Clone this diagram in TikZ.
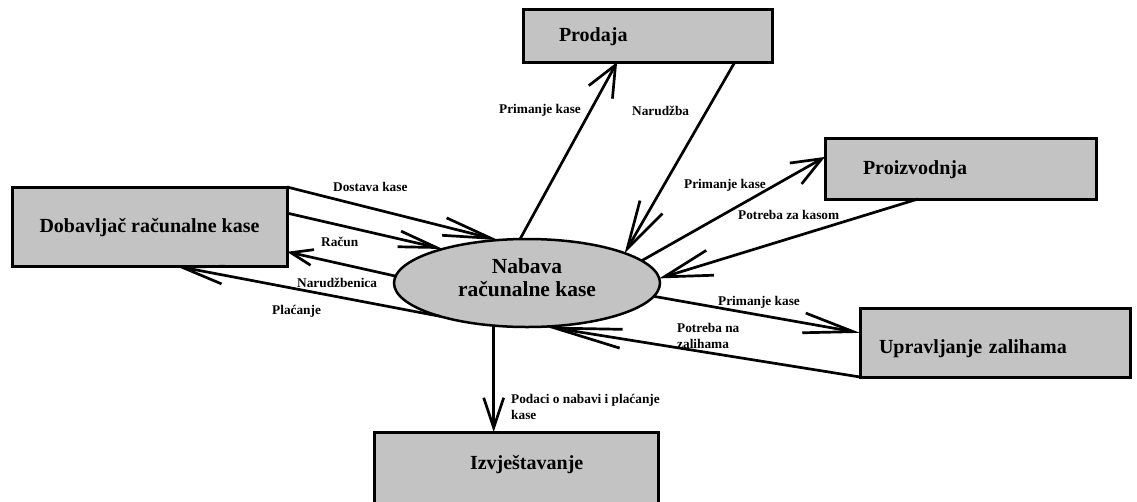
\documentclass[tikz,border=0pt]{standalone}
\usepackage{fontspec}
\setmainfont{Liberation Serif}
\usetikzlibrary{arrows.meta,calc,shapes.geometric}
\definecolor{boxgray}{RGB}{195,195,195}
\begin{document}
\begin{tikzpicture}[x=1pt,y=-1pt,
  box/.style={draw=black, line width=3pt, fill=boxgray, rectangle, inner ysep=0pt,
    outer sep=0pt, anchor=north west, font=\fontsize{20}{23}\selectfont\bfseries,
    text height=12pt, text depth=0pt},
  lbl/.style={font=\fontsize{13.3}{16}\selectfont\bfseries, anchor=base west, inner sep=0pt},
  flow/.style={line width=2.7pt, draw=black},
  ah/.style 2 args={-{Straight Barb[length=#1,width=#2]}}]
\useasboundingbox (0,0) rectangle (1137,501);

% boxes
\node[box, minimum width=275pt, minimum height=79pt, inner xsep=0pt] (dob) at (12,187) {Dobavljač računalne kase};
\node[box, minimum height=53pt, inner xsep=36pt, text width=177pt, align=left] (pro) at (523,9) {Prodaja};
\node[box, minimum height=61pt, inner xsep=38pt, text width=195pt, align=left] (prz) at (825,138) {Proizvodnja};
\node[box, minimum height=69pt, inner xsep=19pt, text width=232pt, align=left, text height=22pt, text depth=0pt] (upr) at (860,308) {Upravljanje zalihama};
\node[box, minimum height=80pt, inner xsep=96pt, text width=92pt, align=left, text height=12pt, text depth=18pt] (izv) at (374,432) {Izvještavanje};

% process
\node[ellipse, draw=black, line width=2.5pt, fill=boxgray, minimum width=266pt, minimum height=88pt, inner sep=0pt, outer sep=0pt] (nab) at (527,283) {};
\node[font=\fontsize{21.5}{23}\selectfont\bfseries, anchor=base, inner sep=0pt] (nabT) at ([yshift=10pt]nab.center) {\parbox[t]{200pt}{\centering Nabava\\računalne kase}};

% flows
\draw[flow, ah={48pt}{18pt}] (dob.north east) -- (nab.124);
\draw[flow, ah={38pt}{16pt}] ($(dob.north east)!0.33!(dob.south east)$) -- (nab.158);
\draw[flow, ah={22pt}{16pt}] (nab.177) -- ($(dob.north east)!0.82!(dob.south east)$);
\draw[flow, ah={42pt}{18pt}] (nab.201) -- ($(dob.south west)!0.595!(dob.south east)$);
\draw[flow, ah={31pt}{27pt}] (nab.99) -- ($(pro.south west)!0.378!(pro.south east)$);
\draw[flow, ah={48pt}{26pt}] ($(pro.south west)!0.851!(pro.south east)$) -- (nab.17);
\draw[flow, ah={30pt}{24pt}] (nab.11) -- ($(prz.north west)!0.31!(prz.south west)$);
\draw[flow, ah={48pt}{26pt}] ($(prz.south west)!0.343!(prz.south east)$) -- (nab.2.5);
\draw[flow, ah={50pt}{20pt}] (nab.-6) -- ($(upr.north west)!0.36!(upr.south west)$);
\draw[flow, ah={67pt}{19pt}] (upr.south west) -- (nab.-67);
\draw[flow, ah={30pt}{20pt}] (nab.-128) -- (nab.-128 |- izv.north);

% labels
\node[lbl] (l1) at (333,191) {Dostava kase};
\node[lbl] (l2) at (321,246) {Račun};
\node[lbl] (l3) at (297,287) {Narudžbenica};
\node[lbl] (l4) at (272,314) {Plaćanje};
\node[lbl] (l5) at (499,113) {Primanje kase};
\node[lbl] (l6) at (632,115) {Narudžba};
\node[lbl] (l7) at (684,188) {Primanje kase};
\node[lbl] (l8) at (738,219) {Potreba za kasom};
\node[lbl] (l9) at (718,305) {Primanje kase};
\node[lbl] (l10) at (677,332) {\parbox[t]{100pt}{Potreba na\\zalihama}};
\node[lbl] (l11) at (511,403) {\parbox[t]{200pt}{Podaci o nabavi i plaćanje\\kase}};
\end{tikzpicture}
\end{document}
